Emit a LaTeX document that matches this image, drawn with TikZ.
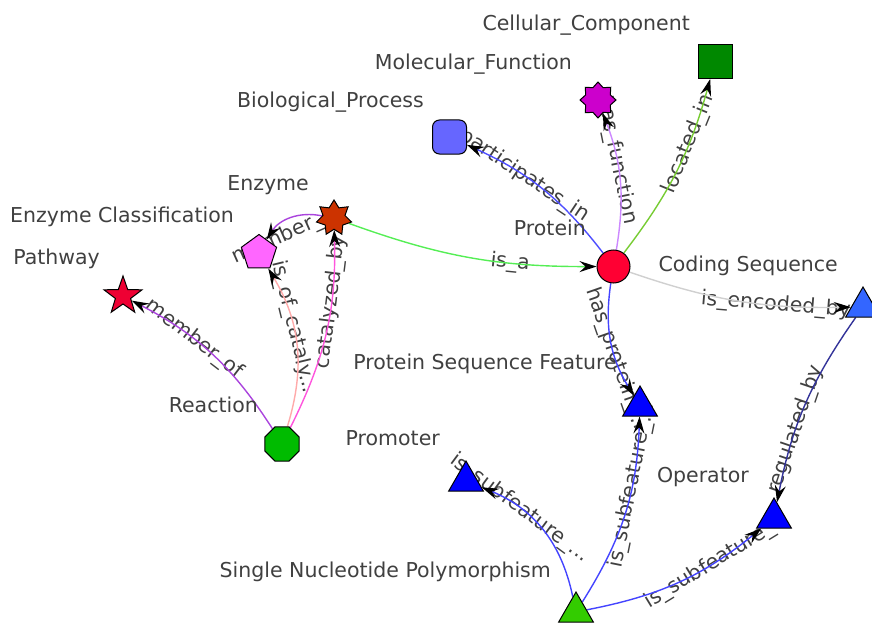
\documentclass[tikz,border=0pt]{standalone}
\usepackage{fontspec}
\setmainfont{DejaVu Sans}
\usetikzlibrary{arrows.meta,shapes.geometric}

\pgfdeclarelayer{labels}
\pgfdeclarelayer{links}
\pgfsetlayers{labels,links,main}

\definecolor{txt}{HTML}{404040}
\definecolor{cProtein}{HTML}{FF0033}
\definecolor{cBP}{HTML}{6666FF}
\definecolor{cMF}{HTML}{CC00CC}
\definecolor{cCC}{HTML}{008800}
\definecolor{cEnz}{HTML}{CC3300}
\definecolor{cEC}{HTML}{FF66FF}
\definecolor{cPath}{HTML}{EE0033}
\definecolor{cReact}{HTML}{00BB00}
\definecolor{cCDS}{HTML}{3366FF}
\definecolor{cFeat}{HTML}{0000FF}
\definecolor{cSNP}{HTML}{33CC00}

\definecolor{ePart}{HTML}{4D4DFF}
\definecolor{eFunc}{HTML}{CC88FF}
\definecolor{eLoc}{HTML}{77CC33}
\definecolor{eIsa}{HTML}{55EE55}
\definecolor{eMember}{HTML}{AA44DD}
\definecolor{eCatOf}{HTML}{FFAAAA}
\definecolor{eCatBy}{HTML}{FF55DD}
\definecolor{eEnc}{HTML}{D0D0D0}
\definecolor{eFeat}{HTML}{4444FF}
\definecolor{eReg}{HTML}{333399}

\tikzset{
  nd/.style={draw=black, line width=1pt, inner sep=0pt},
  tri/.style={nd, regular polygon, regular polygon sides=3, minimum size=40pt},
  cname/.style={anchor=base east, text=txt, inner sep=0pt,
               font=\fontsize{20.5}{24}\selectfont},
  lbltext/.style={text=txt, inner sep=0pt,
               font=\fontsize{20.5}{24}\selectfont},
  elab/.style={lbltext, pos=0.65, sloped},
  link/.style={line width=1.4pt,
               -{Stealth[length=17pt,width=11pt,inset=6pt,color=black]}},
}

% one relation: label underneath, coloured arc with black tip above it
% #1 source, #2 target, #3 bend, #4 colour, #5 text, #6 extra label options
\newcommand\relarc[6]{%
  \begin{pgfonlayer}{labels}
    \path (#1) to[bend right=#3] node[elab,#6]{#5} (#2);
  \end{pgfonlayer}
  \begin{pgfonlayer}{links}
    \draw[link,draw=#4] (#1) to[bend right=#3] (#2);
  \end{pgfonlayer}}

\begin{document}
\begin{tikzpicture}[x=1pt,y=-1pt]
\useasboundingbox (0,0) rectangle (872,623);

% concepts
\node[nd, circle, minimum size=33pt, fill=cProtein] (prot) at (613.5,266.5) {};
\node[nd, rectangle, rounded corners=7pt, minimum size=34pt, fill=cBP] (bp) at (449.5,137) {};
\node[nd, star, star points=8, star point ratio=1.35, minimum size=36pt, fill=cMF] (mf) at (598,100) {};
\node[nd, rectangle, minimum size=34pt, fill=cCC] (cc) at (715,61.5) {};
\node[nd, star, star points=7, star point ratio=1.6, minimum size=36pt, fill=cEnz] (enz) at (334,218) {};
\node[nd, regular polygon, regular polygon sides=5, minimum size=37pt, fill=cEC] (ec) at (259,253) {};
\node[nd, star, star points=5, star point ratio=2.5, minimum size=40pt, fill=cPath] (path) at (123,296) {};
\node[nd, regular polygon, regular polygon sides=8, minimum size=37pt, fill=cReact] (react) at (282,444) {};
\node[tri, fill=cCDS] (cds) at (863,307) {};
\node[tri, fill=cFeat] (psf) at (640,406) {};
\node[tri, fill=cFeat] (prom) at (466,481) {};
\node[tri, fill=cFeat] (oper) at (774,518) {};
\node[tri, fill=cSNP] (snp) at (576,612) {};

% concept names
\node[cname] (tCC)    at (690,31)  {Cellular\_Component};
\node[cname] (tMF)    at (572,70)  {Molecular\_Function};
\node[cname] (tBP)    at (424,108) {Biological\_Process};
\node[cname] (tEnz)   at (309,190) {Enzyme};
\node[cname] (tEC)    at (234,222) {Enzyme Classification};
\node[cname] (tPath)  at (100,264) {Pathway};
\node[cname] (tReact) at (258,412) {Reaction};
\node[cname] (tProt)  at (586,235) {Protein};
\node[cname] (tCDS)   at (838,271) {Coding Sequence};
\node[cname] (tPSF)   at (617,369) {Protein Sequence Feature};
\node[cname] (tProm)  at (440,445) {Promoter};
\node[cname] (tOper)  at (749,482) {Operator};
\node[cname] (tSNP)   at (551,577) {Single Nucleotide Polymorphism};

% relations
\relarc{prot}{bp}{14}{ePart}{participates\_in}{pos=0.64}
\relarc{prot}{mf}{15}{eFunc}{has\_function}{pos=0.66}
\relarc{prot}{cc}{11}{eLoc}{located\_in}{pos=0.66}
\relarc{enz}{prot}{10}{eIsa}{is\_a}{pos=0.67}
\relarc{enz}{ec}{35}{eMember}{}{}
\begin{pgfonlayer}{labels}
  \node[lbltext, rotate=24] (lMember) at (287,235) {member\_of};
\end{pgfonlayer}
\relarc{react}{ec}{24}{eCatOf}{is\_of\_cataly...}{pos=0.62}
\relarc{react}{enz}{14}{eCatBy}{catalyzed\_by}{pos=0.66}
\relarc{react}{path}{15}{eMember}{member\_of}{pos=0.63}
\relarc{prot}{cds}{10}{eEnc}{is\_encoded\_by}{pos=0.68}
\relarc{prot}{psf}{20}{eFeat}{has\_protein\_...}{pos=0.66}
\relarc{snp}{psf}{15}{eFeat}{is\_subfeature\_...}{pos=0.66}
\relarc{snp}{prom}{28}{eFeat}{is\_subfeature\_...}{pos=0.72}
\relarc{snp}{oper}{14}{eFeat}{is\_subfeature\_}{pos=0.69}
\relarc{cds}{oper}{12}{eReg}{regulated\_by}{pos=0.64}

\end{tikzpicture}
\end{document}
